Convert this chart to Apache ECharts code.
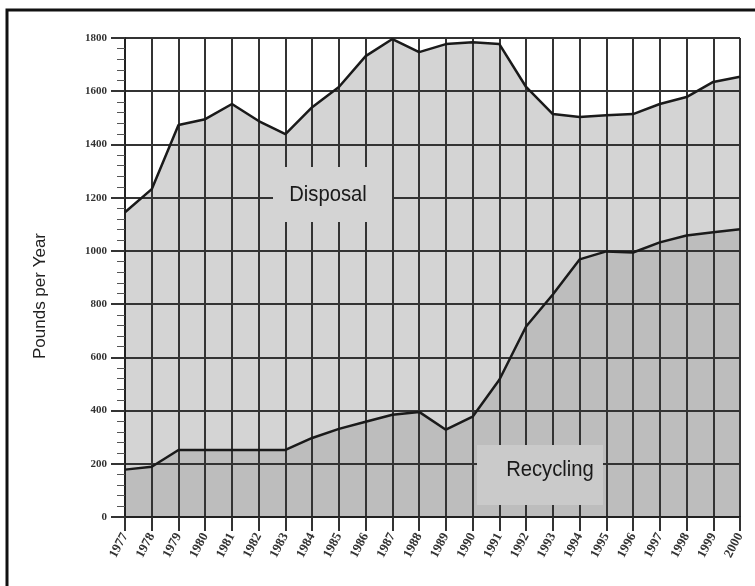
<!DOCTYPE html>
<html>
<head>
<meta charset="utf-8">
<script src="https://cdn.jsdelivr.net/npm/echarts@6/dist/echarts.min.js"></script>
<style>html,body{margin:0;padding:0;background:#fff;}#c{width:755px;height:586px;}</style>
</head>
<body>
<div id="c"></div>
<script>
var years = ['1977','1978','1979','1980','1981','1982','1983','1984','1985','1986','1987','1988','1989','1990','1991','1992','1993','1994','1995','1996','1997','1998','1999','2000'];
var disposal = [1145, 1232, 1473, 1495, 1552, 1488, 1439, 1540, 1616, 1732, 1796, 1747, 1777, 1784, 1777, 1616, 1514, 1503, 1510, 1514, 1552, 1578, 1635, 1654];
var recycling = [178, 189, 252, 252, 252, 252, 252, 297, 331, 358, 384, 395, 328, 377, 516, 716, 836, 968, 998, 994, 1032, 1058, 1070, 1081];
var yMin = 0, yMax = 1800, yStep = 200;

var chart = echarts.init(document.getElementById('c'));
chart.setOption({
  animation: false,
  backgroundColor: '#fff',
  grid: {left: 125, right: 15, top: 38, bottom: 69, containLabel: false, outerBoundsMode: 'none'},
  xAxis: {
    type: 'category', data: years, boundaryGap: false, z: 2,
    axisLine: {show: true, lineStyle: {color: '#222', width: 2}},
    axisTick: {show: true, length: 14, interval: 0, lineStyle: {color: '#333', width: 2}},
    axisLabel: {interval: 0, rotate: 62, margin: 17, fontFamily: 'Liberation Serif', fontWeight: 'bold', fontSize: 13, color: '#333'},
    splitLine: {show: true, interval: 0, lineStyle: {color: '#333', width: 2}}
  },
  yAxis: {
    type: 'value', min: yMin, max: yMax, interval: yStep, z: 2,
    axisLine: {show: true, lineStyle: {color: '#222', width: 2}},
    axisTick: {show: true, length: 14, lineStyle: {color: '#333', width: 2}},
    minorTick: {show: true, splitNumber: 5, length: 8, lineStyle: {color: '#555', width: 1}},
    axisLabel: {margin: 18, fontFamily: 'Liberation Serif', fontWeight: 'bold', fontSize: 11, color: '#333',
      formatter: function (v) { return String(v); }},
    splitLine: {show: true, lineStyle: {color: '#333', width: 2}}
  },
  series: [
    {name: 'DisposalArea', type: 'line', data: disposal, z: 1, symbol: 'none', silent: true,
     lineStyle: {width: 0}, areaStyle: {color: '#d4d4d4', opacity: 1}},
    {name: 'RecyclingArea', type: 'line', data: recycling, z: 1, symbol: 'none', silent: true,
     lineStyle: {width: 0}, areaStyle: {color: '#bdbdbd', opacity: 1}},
    {name: 'Disposal', type: 'line', data: disposal, z: 3, symbol: 'none',
     lineStyle: {color: '#1a1a1a', width: 2.5}},
    {name: 'Recycling', type: 'line', data: recycling, z: 3, symbol: 'none',
     lineStyle: {color: '#1a1a1a', width: 2.5}}
  ],
  graphic: [
    {type: 'rect', z: 20, shape: {x: 7, y: 10, width: 780, height: 620}, style: {fill: 'none', stroke: '#111', lineWidth: 3}},
    {type: 'rect', z: 10, shape: {x: 273, y: 167, width: 119, height: 55}, style: {fill: '#d4d4d4'}},
    {type: 'text', z: 11, x: 328, y: 195, scaleX: 0.92, style: {text: 'Disposal', fontFamily: 'Liberation Sans', fontSize: 22, fill: '#1a1a1a', align: 'center', verticalAlign: 'middle'}},
    {type: 'rect', z: 10, shape: {x: 477, y: 445, width: 126, height: 60}, style: {fill: '#cacaca'}},
    {type: 'text', z: 11, x: 550, y: 470, scaleX: 0.92, style: {text: 'Recycling', fontFamily: 'Liberation Sans', fontSize: 22, fill: '#1a1a1a', align: 'center', verticalAlign: 'middle'}},
    {type: 'text', z: 11, x: 40, y: 296, rotation: Math.PI / 2, style: {text: 'Pounds per Year', fontFamily: 'Liberation Sans', fontSize: 17, fill: '#222', align: 'center', verticalAlign: 'middle'}}
  ]
});
</script>
</body>
</html>
